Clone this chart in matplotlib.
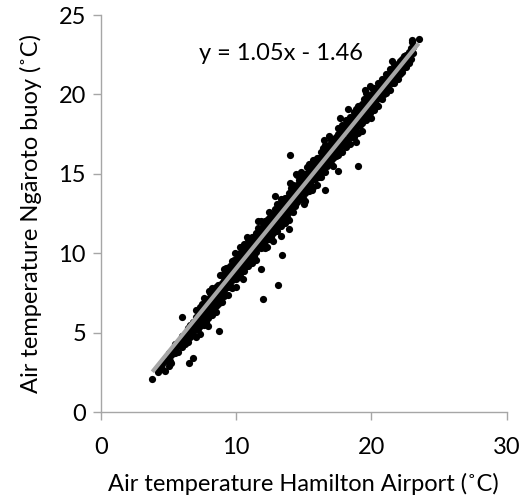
import numpy as np
import matplotlib.pyplot as plt

plt.rcParams['font.family'] = ['Lato', 'DejaVu Sans']

# hourly air temperature pairs (deg C): Hamilton Airport vs Ngaroto buoy
airport = [
    3.8, 4.2, 4.2, 4.5, 4.5, 4.7, 4.7, 5.0, 5.0, 5.0, 5.2, 5.2, 5.5, 5.5, 5.5,
    5.7, 5.7, 6.0, 6.0, 6.0, 6.2, 6.2, 6.4, 6.4, 6.4, 6.6, 6.6, 6.6, 6.8, 6.8, 6.8,
    7.0, 7.0, 7.0, 7.0, 7.0, 7.3, 7.3, 7.3, 7.3, 7.3, 7.6, 7.6, 7.6, 7.6, 7.6,
    7.9, 7.9, 7.9, 7.9, 7.9, 8.2, 8.2, 8.2, 8.2, 8.2, 8.5, 8.5, 8.5, 8.5, 8.5,
    8.8, 8.8, 8.8, 8.8, 8.8, 9.1, 9.1, 9.1, 9.1, 9.1, 9.4, 9.4, 9.4, 9.4, 9.4,
    9.7, 9.7, 9.7, 9.7, 9.7, 10.0, 10.0, 10.0, 10.0, 10.0, 10.3, 10.3, 10.3, 10.3, 10.3,
    10.6, 10.6, 10.6, 10.6, 10.6, 10.9, 10.9, 10.9, 10.9, 10.9, 11.2, 11.2, 11.2, 11.2, 11.2,
    11.5, 11.5, 11.5, 11.5, 11.5, 11.8, 11.8, 11.8, 11.8, 11.8, 12.1, 12.1, 12.1, 12.1, 12.1,
    12.4, 12.4, 12.4, 12.4, 12.4, 12.7, 12.7, 12.7, 12.7, 12.7, 13.0, 13.0, 13.0, 13.0, 13.0,
    13.3, 13.3, 13.3, 13.3, 13.3, 13.6, 13.6, 13.6, 13.6, 13.6, 13.9, 13.9, 13.9, 13.9, 13.9,
    14.2, 14.2, 14.2, 14.2, 14.2, 14.5, 14.5, 14.5, 14.5, 14.5, 14.8, 14.8, 14.8, 14.8, 14.8,
    15.1, 15.1, 15.1, 15.1, 15.1, 15.4, 15.4, 15.4, 15.4, 15.4, 15.7, 15.7, 15.7, 15.7, 15.7,
    16.0, 16.0, 16.0, 16.0, 16.0, 16.3, 16.3, 16.3, 16.3, 16.3, 16.6, 16.6, 16.6, 16.6, 16.6,
    16.9, 16.9, 16.9, 16.9, 16.9, 17.2, 17.2, 17.2, 17.2, 17.2, 17.5, 17.5, 17.5, 17.5, 17.5,
    17.8, 17.8, 17.8, 17.8, 17.8, 18.1, 18.1, 18.1, 18.1, 18.1, 18.4, 18.4, 18.4, 18.4, 18.4,
    18.7, 18.7, 18.7, 18.7, 18.7, 19.0, 19.0, 19.0, 19.0, 19.0, 19.3, 19.3, 19.3, 19.3, 19.3,
    19.6, 19.6, 19.6, 19.6, 19.6, 19.9, 19.9, 19.9, 19.9, 19.9,
    20.2, 20.2, 20.2, 20.2, 20.5, 20.5, 20.5, 20.5, 20.8, 20.8, 20.8, 20.8,
    21.1, 21.1, 21.1, 21.1, 21.4, 21.4, 21.4, 21.4, 21.7, 21.7, 21.7, 21.7,
    22.0, 22.0, 22.0, 22.3, 22.3, 22.3, 22.6, 22.6, 22.6, 22.9, 22.9, 22.9,
    23.1, 23.1, 23.0, 23.5, 23.0,
    # second pass of readings, between the columns above
    5.1, 5.35, 5.85, 6.1, 6.3, 6.5, 6.7, 6.9,
    7.15, 7.15, 7.15, 7.15, 7.45, 7.45, 7.45, 7.45, 7.75, 7.75, 7.75, 7.75,
    8.05, 8.05, 8.05, 8.05, 8.35, 8.35, 8.35, 8.35, 8.65, 8.65, 8.65, 8.65,
    8.95, 8.95, 8.95, 8.95, 9.25, 9.25, 9.25, 9.25, 9.55, 9.55, 9.55, 9.55,
    9.85, 9.85, 9.85, 9.85, 10.15, 10.15, 10.15, 10.15, 10.45, 10.45, 10.45, 10.45,
    10.75, 10.75, 10.75, 10.75, 11.05, 11.05, 11.05, 11.05, 11.35, 11.35, 11.35, 11.35,
    11.65, 11.65, 11.65, 11.65, 11.95, 11.95, 11.95, 11.95, 12.25, 12.25, 12.25, 12.25,
    12.55, 12.55, 12.55, 12.55, 12.85, 12.85, 12.85, 12.85, 13.15, 13.15, 13.15, 13.15,
    13.45, 13.45, 13.45, 13.45, 13.75, 13.75, 13.75, 13.75, 14.05, 14.05, 14.05, 14.05,
    14.35, 14.35, 14.35, 14.35, 14.65, 14.65, 14.65, 14.65, 14.95, 14.95, 14.95, 14.95,
    15.25, 15.25, 15.25, 15.25, 15.55, 15.55, 15.55, 15.55, 15.85, 15.85, 15.85, 15.85,
    16.15, 16.15, 16.15, 16.15, 16.45, 16.45, 16.45, 16.45, 16.75, 16.75, 16.75, 16.75,
    17.05, 17.05, 17.05, 17.05, 17.35, 17.35, 17.35, 17.35, 17.65, 17.65, 17.65, 17.65,
    17.95, 17.95, 17.95, 17.95, 18.25, 18.25, 18.25, 18.25, 18.55, 18.55, 18.55, 18.55,
    18.85, 18.85, 18.85, 18.85, 19.15, 19.15, 19.15, 19.15, 19.45, 19.45, 19.45, 19.45,
    19.75, 19.75, 19.75, 19.75, 20.05, 20.05, 20.05, 20.05,
    20.35, 20.35, 20.35, 20.65, 20.65, 20.65, 20.95, 20.95, 20.95,
    21.25, 21.25, 21.25, 21.55, 21.55, 21.55, 21.85, 21.85, 21.85,
    22.15, 22.15, 22.15, 22.45, 22.45, 22.45, 22.75, 22.75, 22.75,
    # outliers and ragged edges
    6.0, 8.7, 6.5, 6.8, 13.1, 12.0, 14.0, 13.4, 11.8, 13.9, 12.9, 13.3, 19.0, 17.5,
    16.6, 14.0, 8.0, 9.9, 10.5, 11.6, 12.3, 14.4, 15.6, 16.5, 17.0, 18.3, 18.9,
    10.8, 15.0, 17.7, 20.0, 21.5, 19.5,
]
buoy = [
    2.1, 2.5, 2.8, 2.7, 3.0, 2.6, 3.2, 2.9, 3.4, 3.7, 3.1, 3.6, 3.7, 4.0, 4.3,
    3.8, 4.2, 4.1, 4.5, 4.8, 4.3, 4.7, 4.4, 4.9, 5.3, 4.7, 5.1, 5.5, 4.9, 5.3, 5.7,
    4.7, 5.2, 5.6, 6.0, 6.4, 4.9, 5.4, 5.8, 6.2, 6.6, 5.5, 6.0, 6.4, 6.8, 7.2,
    5.4, 5.9, 6.3, 6.7, 7.1, 6.1, 6.6, 7.0, 7.4, 7.8, 6.3, 6.7, 7.2, 7.5, 7.9,
    6.9, 7.3, 7.6, 8.0, 8.6, 7.3, 7.7, 8.3, 8.7, 9.0, 7.4, 7.9, 8.3, 8.7, 9.1,
    7.8, 8.3, 8.7, 9.1, 9.5, 7.9, 8.4, 8.8, 9.2, 9.6, 8.7, 9.2, 9.6, 10.0, 10.4,
    8.9, 9.3, 9.9, 10.3, 10.6, 9.2, 9.7, 10.1, 10.5, 10.9, 9.4, 9.8, 10.3, 10.6, 11.0,
    9.6, 10.1, 10.5, 10.9, 11.3, 10.3, 10.7, 11.0, 11.4, 12.0, 10.3, 10.8, 11.2, 11.6, 12.0,
    10.9, 11.4, 11.8, 12.2, 12.6, 10.8, 11.3, 11.7, 12.1, 12.5, 11.4, 11.9, 12.3, 12.7, 13.1,
    11.7, 12.1, 12.7, 13.1, 13.4, 11.9, 12.3, 12.8, 13.1, 13.5, 12.1, 12.6, 13.0, 13.4, 13.8,
    12.6, 13.1, 13.5, 13.9, 14.3, 13.2, 13.6, 13.9, 14.3, 14.9, 13.4, 13.9, 14.3, 14.7, 15.1,
    13.3, 13.8, 14.2, 14.6, 15.0, 13.9, 14.3, 14.9, 15.3, 15.6, 14.2, 14.7, 15.1, 15.5, 15.9,
    14.3, 14.8, 15.2, 15.6, 16.0, 14.8, 15.2, 15.7, 16.0, 16.4, 15.1, 15.6, 16.0, 16.4, 16.8,
    15.7, 16.1, 16.4, 16.8, 17.4, 15.5, 16.0, 16.4, 16.8, 17.2, 16.2, 16.7, 17.1, 17.5, 17.9,
    16.4, 16.9, 17.3, 17.7, 18.1, 16.7, 17.1, 17.7, 18.1, 18.4, 16.9, 17.4, 17.8, 18.2, 18.6,
    17.3, 17.7, 18.2, 18.5, 18.9, 17.6, 18.1, 18.5, 18.9, 19.3, 17.7, 18.2, 18.6, 19.0, 19.4,
    18.4, 18.9, 19.3, 19.7, 20.1, 18.8, 19.2, 19.5, 19.9, 20.5,
    19.0, 19.5, 19.9, 20.4, 19.3, 19.8, 20.2, 20.7, 19.7, 20.2, 20.6, 21.0,
    20.1, 20.5, 20.9, 21.3, 20.3, 20.8, 21.2, 21.6, 20.7, 21.1, 21.5, 21.9,
    21.0, 21.5, 21.9, 21.4, 21.8, 22.2, 21.7, 22.2, 22.5, 22.2, 22.6, 22.9,
    22.6, 23.0, 23.4, 23.5, 23.3,
    # second pass
    3.2, 3.9, 4.3, 4.6, 4.5, 5.0, 5.0, 5.4,
    5.2, 5.6, 6.0, 6.4, 5.6, 6.0, 6.4, 6.8, 5.7, 6.1, 6.5, 6.9,
    6.3, 6.7, 7.1, 7.5, 6.4, 6.8, 7.2, 7.6, 6.8, 7.2, 7.6, 8.0,
    6.9, 7.3, 7.7, 8.1, 7.9, 8.3, 8.7, 9.1, 8.0, 8.4, 8.8, 9.2,
    8.4, 8.8, 9.2, 9.6, 8.5, 8.9, 9.3, 9.7, 9.1, 9.5, 9.9, 10.3,
    9.2, 9.6, 10.0, 10.4, 9.6, 10.0, 10.4, 10.8, 9.8, 10.2, 10.6, 11.0,
    10.4, 10.8, 11.2, 11.6, 10.5, 10.9, 11.3, 11.7, 10.9, 11.3, 11.7, 12.1,
    11.0, 11.4, 11.8, 12.2, 11.6, 12.0, 12.4, 12.8, 11.8, 12.2, 12.6, 13.0,
    12.2, 12.6, 13.0, 13.4, 12.3, 12.7, 13.1, 13.5, 12.9, 13.3, 13.7, 14.1,
    13.0, 13.4, 13.8, 14.2, 13.4, 13.8, 14.2, 14.6, 13.5, 13.9, 14.3, 14.7,
    14.2, 14.6, 15.0, 15.4, 14.3, 14.7, 15.1, 15.5, 14.7, 15.1, 15.5, 15.9,
    14.8, 15.2, 15.6, 16.0, 15.4, 15.8, 16.2, 16.6, 15.5, 15.9, 16.3, 16.7,
    15.9, 16.3, 16.7, 17.1, 16.1, 16.5, 16.9, 17.3, 16.7, 17.1, 17.5, 17.9,
    16.8, 17.2, 17.6, 18.0, 17.2, 17.6, 18.0, 18.4, 17.3, 17.7, 18.1, 18.5,
    17.9, 18.3, 18.7, 19.1, 18.1, 18.5, 18.9, 19.3, 18.5, 18.9, 19.3, 19.7,
    18.6, 19.0, 19.4, 19.8, 19.2, 19.6, 20.0, 20.4,
    19.4, 19.8, 20.2, 19.8, 20.2, 20.6, 20.0, 20.4, 20.8,
    20.4, 20.8, 21.2, 20.7, 21.1, 21.5, 21.0, 21.4, 21.8,
    21.3, 21.7, 22.1, 21.7, 22.1, 22.4, 22.0, 22.4, 22.7,
    # outliers and ragged edges
    6.0, 5.1, 3.1, 3.4, 8.0, 7.1, 16.2, 9.9, 9.0, 11.5, 13.6, 11.1, 15.5, 15.2,
    14.0, 14.4, 7.6, 10.0, 8.4, 12.0, 10.4, 15.0, 14.0, 17.1, 15.6, 19.1, 17.0,
    11.0, 13.1, 18.5, 18.5, 22.1, 20.3,
]

# linear trendline shown on the chart
slope = 1.05
intercept = -1.46

x = np.array(airport)
y = np.array(buoy)

fig = plt.figure(figsize=(5.23, 5.04), dpi=100)
ax = fig.add_axes([0.1931, 0.1825, 0.7754, 0.7877])

ax.scatter(x, y, s=27, c='black', linewidths=0, zorder=2)

xfit = np.array([x.min(), x.max()])
ax.plot(xfit, slope * xfit + intercept, color='#a6a6a6', lw=3.0,
        solid_capstyle='butt', zorder=3)

ax.text(13.3, 22.55, 'y = %.2fx - %.2f' % (slope, -intercept),
        ha='center', va='center', fontsize=17)

ax.set_xlim(0, 30)
ax.set_ylim(0, 25)
ax.set_xticks([0, 10, 20, 30])
ax.set_yticks([0, 5, 10, 15, 20, 25])

for side in ['top', 'right']:
    ax.spines[side].set_visible(False)
for side in ['left', 'bottom']:
    ax.spines[side].set_color('#a6a6a6')
    ax.spines[side].set_linewidth(1.0)

ax.tick_params(direction='out', length=5.8, width=1.0, color='#a6a6a6',
               labelsize=17)
ax.tick_params(axis='x', pad=12)
ax.tick_params(axis='y', pad=5)

ax.set_xlabel('Air temperature Hamilton Airport (˚C)', fontsize=17, labelpad=11)
ax.set_ylabel('Air temperature Ngāroto buoy (˚C)', fontsize=17, labelpad=12)

fig.savefig('out.png', dpi=100)
